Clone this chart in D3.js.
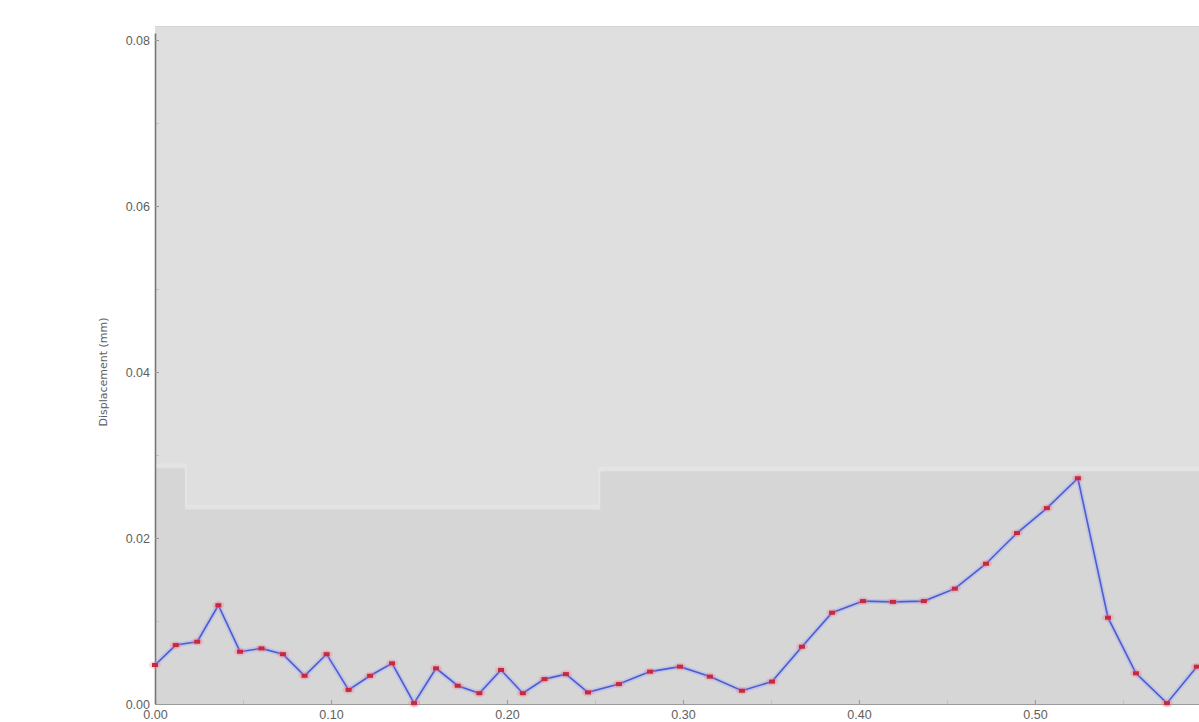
<!DOCTYPE html>
<html>
<head>
    <title>Displacement</title>
    <script src="https://cdnjs.cloudflare.com/ajax/libs/d3/7.8.5/d3.min.js"></script>
    <style>
        html, body {
            margin: 0;
            padding: 0;
            background-color: #ffffff;
            font-family: 'DejaVu Sans', Verdana, sans-serif;
        }
        #chart svg {
            display: block;
        }
        .axis text {
            fill: #5e5e5e;
            font-size: 12.5px;
        }
    </style>
</head>
<body>
    <div id="chart"></div>
    <script>
        // position along the scan (x) and displacement in mm (y)
        const positions = [
            0.0000, 0.0118, 0.0240, 0.0360, 0.0483, 0.0605, 0.0727, 0.0850, 0.0975, 0.1100,
            0.1222, 0.1347, 0.1472, 0.1597, 0.1720, 0.1843, 0.1966, 0.2090, 0.2213, 0.2335,
            0.2460, 0.2636, 0.2813, 0.2983, 0.3153, 0.3335, 0.3506, 0.3676, 0.3847, 0.4023,
            0.4193, 0.4369, 0.4545, 0.4722, 0.4898, 0.5068, 0.5244, 0.5415, 0.5574, 0.5750,
            0.5920
        ];
        const displacements = [
            0.0047, 0.0071, 0.0075, 0.0119, 0.0063, 0.0067, 0.0060, 0.0034, 0.0060, 0.0017,
            0.0034, 0.0049, 0.0001, 0.0043, 0.0022, 0.0013, 0.0041, 0.0013, 0.0030, 0.0036,
            0.0014, 0.0024, 0.0039, 0.0045, 0.0033, 0.0016, 0.0027, 0.0069, 0.0110, 0.0124,
            0.0123, 0.0124, 0.0139, 0.0169, 0.0206, 0.0236, 0.0272, 0.0104, 0.0037, 0.0001,
            0.0045
        ];

        // stepped threshold band behind the curve
        const bandEdges = [0, 0.017, 0.253, 0.7];
        const bandLevels = [0.0284, 0.0234, 0.0280, 0.0280];

        const xTicks = [0, 0.1, 0.2, 0.3, 0.4, 0.5, 0.6];
        const xMinorTicks = [0.05, 0.15, 0.25, 0.35, 0.45, 0.55];
        const yTicks = [0, 0.02, 0.04, 0.06, 0.08];
        const yMinorTicks = [0.01, 0.03, 0.05, 0.07];

        const width = 1199, height = 722;
        const margin = { left: 155, top: 26 };
        const plotW = 1120, plotH = 678;

        const svg = d3.select('#chart')
            .append('svg')
            .attr('width', width)
            .attr('height', height);

        const x = d3.scaleLinear().domain([0, 0.6364]).range([0, plotW]);
        const y = d3.scaleLinear().domain([0, 0.08169]).range([plotH, 0]);

        const g = svg.append('g')
            .attr('transform', `translate(${margin.left},${margin.top})`);

        g.append('rect')
            .attr('width', plotW)
            .attr('height', plotH)
            .attr('fill', '#dfdfdf');

        g.append('line')
            .attr('x1', 0).attr('x2', plotW)
            .attr('y1', 0.5).attr('y2', 0.5)
            .attr('stroke', '#d6d6d6');

        const band = bandEdges.map((e, i) => ({ x: e, y: bandLevels[i] }));

        g.append('path')
            .datum(band)
            .attr('fill', 'none')
            .attr('stroke', '#e4e4e4')
            .attr('stroke-width', 4)
            .attr('transform', 'translate(0,-3)')
            .attr('d', d3.line().curve(d3.curveStepAfter)
                .x(d => x(d.x)).y(d => y(d.y)));

        g.append('path')
            .datum(band)
            .attr('fill', '#d6d6d6')
            .attr('d', d3.area().curve(d3.curveStepAfter)
                .x(d => x(d.x)).y0(plotH).y1(d => y(d.y)));

        // minor ticks
        g.append('g')
            .call(d3.axisLeft(y).tickValues(yMinorTicks).tickSize(-4).tickFormat(''))
            .call(a => a.select('.domain').remove())
            .selectAll('line').attr('stroke', '#c2c2c2');

        g.append('g')
            .attr('transform', `translate(0,${plotH})`)
            .call(d3.axisBottom(x).tickValues(xMinorTicks).tickSize(-4).tickFormat(''))
            .call(a => a.select('.domain').remove())
            .selectAll('line').attr('stroke', '#c2c2c2');

        const xAxis = g.append('g')
            .attr('class', 'axis')
            .attr('transform', `translate(0,${plotH})`)
            .call(d3.axisBottom(x).tickValues(xTicks).tickSize(-4).tickPadding(6)
                .tickFormat(d3.format('.2f')));
        xAxis.select('.domain').attr('stroke', '#9a9a9a').attr('stroke-width', 1.2);
        xAxis.selectAll('line').attr('stroke', '#9a9a9a');
        xAxis.selectAll('text').attr('font-family', null);

        const yAxis = g.append('g')
            .attr('class', 'axis')
            .call(d3.axisLeft(y).tickValues(yTicks).tickSize(-4).tickPadding(5)
                .tickFormat(d3.format('.2f')));
        yAxis.select('.domain')
            .attr('d', `M0.5,${y(0.0808)}V${plotH}`)
            .attr('stroke', '#777')
            .attr('stroke-width', 1.6);
        yAxis.selectAll('line').attr('stroke', '#999');
        yAxis.selectAll('text').attr('font-family', null);

        svg.append('text')
            .attr('transform', `translate(107,${margin.top + y(0.04)}) rotate(-90)`)
            .attr('text-anchor', 'middle')
            .attr('fill', '#5e5e5e')
            .style('font-size', '11px')
            .text('Displacement (mm)');

        const points = positions.map((p, i) => ({ x: p, y: displacements[i] }));

        g.append('clipPath').attr('id', 'plot-clip')
            .append('rect').attr('x', -6).attr('y', -6).attr('width', plotW + 12).attr('height', plotH + 12);

        const series = g.append('g').attr('clip-path', 'url(#plot-clip)');

        const line = d3.line().x(d => x(d.x)).y(d => y(d.y));

        series.append('path')
            .datum(points)
            .attr('fill', 'none')
            .attr('stroke', 'rgba(150,165,250,0.35)')
            .attr('stroke-width', 5)
            .attr('d', line);

        series.append('path')
            .datum(points)
            .attr('fill', 'none')
            .attr('stroke', '#4e5cd0')
            .attr('stroke-width', 1.6)
            .attr('d', line);

        series.selectAll('ellipse')
            .data(points)
            .enter()
            .append('ellipse')
            .attr('cx', d => x(d.x))
            .attr('cy', d => y(d.y))
            .attr('rx', 6)
            .attr('ry', 4)
            .attr('fill', 'rgba(255,120,140,0.3)');

        series.selectAll('.marker')
            .data(points)
            .enter()
            .append('rect')
            .attr('class', 'marker')
            .attr('x', d => x(d.x) - 3)
            .attr('y', d => y(d.y) - 2)
            .attr('width', 6)
            .attr('height', 4)
            .attr('fill', '#c42a40');
    </script>
</body>
</html>
